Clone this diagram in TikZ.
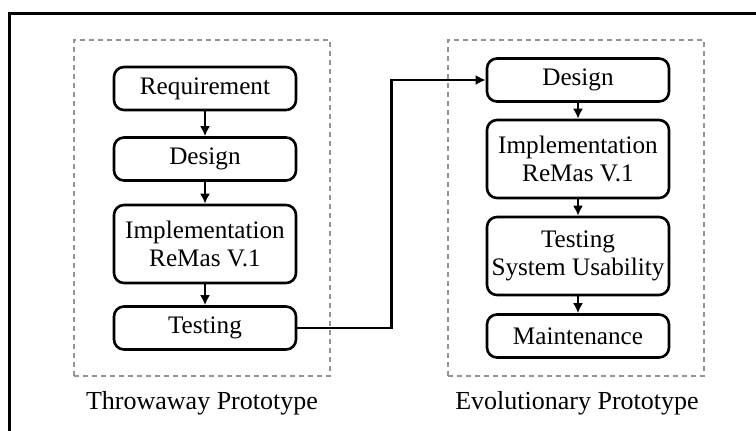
\documentclass[tikz,border=0pt]{standalone}
\usepackage{fontspec}
\setmainfont{Liberation Serif}
\usetikzlibrary{arrows.meta}
\begin{document}
\begin{tikzpicture}[x=0.5pt,y=-0.5pt,
  box/.style={draw,line width=1.3pt,rounded corners=5pt,minimum width=91pt,inner sep=0pt,align=center,font=\fontsize{12.6}{14}\selectfont},
  sbox/.style={box,minimum height=21.5pt},
  tbox/.style={box,minimum height=39pt},
  arr/.style={line width=1.2pt,-{Latex[length=5pt,width=5pt]}},
  grp/.style={draw=black!42,line width=1pt,dash pattern=on 2.6pt off 1.9pt,minimum width=128pt,minimum height=168pt,inner sep=0pt},
  ttl/.style={font=\fontsize{13}{14}\selectfont}]
\useasboundingbox (0,0) rectangle (756,430);
\clip (0,0) rectangle (756,430);
\draw[line width=1.5pt] (9,13) rectangle (780,450);
\node[grp] (g1) at (202,208) {};
\node[grp] (g2) at (576,208) {};
\node[ttl] (t1) at (202,403) {Throwaway Prototype};
\node[ttl] (t2) at (577,403) {Evolutionary Prototype};
\node[sbox] (l1) at (205,88.5) {Requirement};
\node[sbox] (l2) at (205,159) {Design};
\node[tbox] (l3) at (205,244) {Implementation\\ReMas V.1};
\node[sbox] (l4) at (205,328) {Testing};
\node[sbox] (r1) at (578,80) {Design};
\node[tbox] (r2) at (578,159) {Implementation\\ReMas V.1};
\node[tbox] (r3) at (578,256) {Testing\\System Usability};
\node[sbox] (r4) at (578,336) {Maintenance};
\draw[arr] (l1) -- (l2);
\draw[arr] (l2) -- (l3);
\draw[arr] (l3) -- (l4);
\draw[arr] (r1) -- (r2);
\draw[arr] (r2) -- (r3);
\draw[arr] (r3) -- (r4);
\draw[arr] (l4.east) -- ++(94,0) |- (r1.west);
\end{tikzpicture}
\end{document}
